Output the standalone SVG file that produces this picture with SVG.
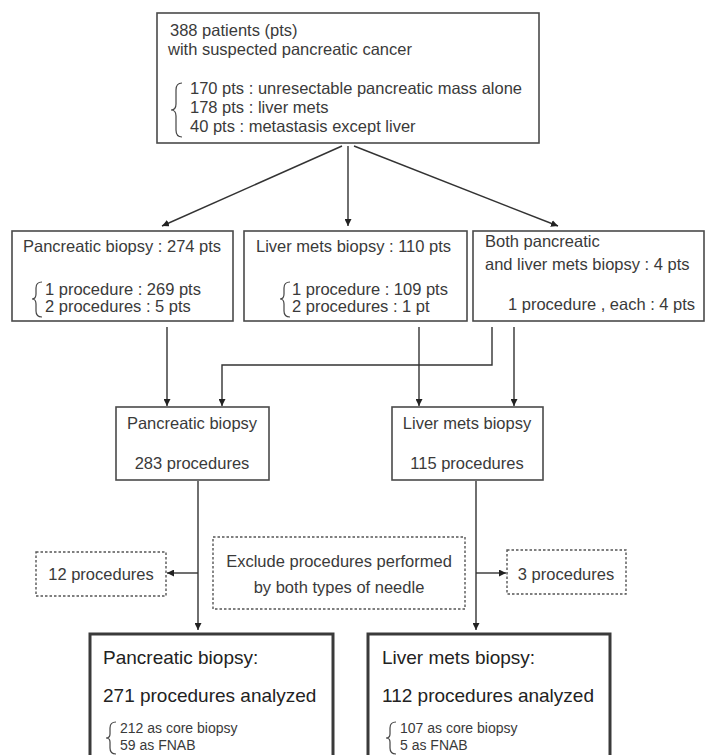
<svg xmlns="http://www.w3.org/2000/svg" width="706" height="755" viewBox="0 0 706 755">
<style>
text{font-family:"Liberation Sans",Arial,sans-serif;fill:#3a3a3a;font-size:16.5px}
.box{fill:none;stroke:#4a4a4a;stroke-width:1.6}
.thick{fill:none;stroke:#3a3a3a;stroke-width:3}
.dash{fill:none;stroke:#555;stroke-width:1.4;stroke-dasharray:2.5 2}
.ln{fill:none;stroke:#333;stroke-width:1.4}
.brace{fill:none;stroke:#444;stroke-width:1.2}
.big{font-size:19px;fill:#222}
.sm{font-size:14px}
</style>
<defs>
<marker id="ah" viewBox="0 0 10 10" refX="10" refY="5" markerWidth="7" markerHeight="7" markerUnits="userSpaceOnUse" orient="auto">
<path d="M0,0 L10,5 L0,10 z" fill="#222"/>
</marker>
</defs>
<rect width="706" height="755" fill="#fff"/>

<g id="connectors">
<line class="ln" x1="342" y1="146" x2="162" y2="226" marker-end="url(#ah)"/>
<line class="ln" x1="348" y1="146" x2="348" y2="226" marker-end="url(#ah)"/>
<line class="ln" x1="354" y1="146" x2="558" y2="226" marker-end="url(#ah)"/>
<line class="ln" x1="167" y1="327" x2="167" y2="406" marker-end="url(#ah)"/>
<line class="ln" x1="419" y1="327" x2="419" y2="406" marker-end="url(#ah)"/>
<polyline class="ln" points="492,327 492,365 222,365 222,406" marker-end="url(#ah)"/>
<line class="ln" x1="514" y1="327" x2="514" y2="406" marker-end="url(#ah)"/>
<line class="ln" x1="198" y1="481" x2="198" y2="630" marker-end="url(#ah)"/>
<line class="ln" x1="476" y1="481" x2="476" y2="630" marker-end="url(#ah)"/>
<line class="ln" x1="198" y1="573" x2="167" y2="573" marker-end="url(#ah)"/>
<line class="ln" x1="476" y1="573" x2="506" y2="573" marker-end="url(#ah)"/>
</g>

<g id="top">
<rect class="box" x="157" y="13" width="382" height="130"/>
<text x="170" y="36">388 patients (pts)</text>
<text x="168" y="55">with suspected pancreatic cancer</text>
<path class="brace" d="M182,83 Q176,83 176,90 L176,104 Q176,110 171,110 Q176,110 176,116 L176,130 Q176,137 182,137"/>
<text x="190" y="94">170 pts : unresectable pancreatic mass alone</text>
<text x="190" y="113">178 pts : liver mets</text>
<text x="190" y="132">40 pts : metastasis except liver</text>
</g>

<g id="panc1">
<rect class="box" x="12" y="231" width="221" height="90"/>
<text x="23" y="252">Pancreatic biopsy : 274 pts</text>
<path class="brace" d="M42,282 Q36,282 36,288 L36,294 Q36,299 32,299 Q36,299 36,304 L36,311 Q36,317 42,317"/>
<text x="45" y="295">1 procedure : 269 pts</text>
<text x="45" y="312">2 procedures : 5 pts</text>
</g>

<g id="liver1">
<rect class="box" x="244" y="231" width="223" height="90"/>
<text x="256" y="252">Liver mets biopsy : 110 pts</text>
<path class="brace" d="M290,282 Q284,282 284,288 L284,294 Q284,299 280,299 Q284,299 284,304 L284,311 Q284,317 290,317"/>
<text x="292" y="295">1 procedure : 109 pts</text>
<text x="292" y="312">2 procedures : 1 pt</text>
</g>

<g id="both1">
<rect class="box" x="473" y="231" width="231" height="90"/>
<text x="485" y="247">Both pancreatic</text>
<text x="485" y="270">and liver mets biopsy : 4 pts</text>
<text x="508" y="310">1 procedure , each : 4 pts</text>
</g>

<g id="panc2">
<rect class="box" x="116" y="407" width="153" height="73"/>
<text x="192" y="429" text-anchor="middle">Pancreatic biopsy</text>
<text x="192" y="469" text-anchor="middle">283 procedures</text>
</g>

<g id="liver2">
<rect class="box" x="392" y="407" width="151" height="73"/>
<text x="467" y="429" text-anchor="middle">Liver mets biopsy</text>
<text x="467" y="469" text-anchor="middle">115 procedures</text>
</g>

<g id="excl12">
<rect class="dash" x="36" y="552" width="130" height="44"/>
<text x="101" y="580" text-anchor="middle">12 procedures</text>
</g>

<g id="exclude">
<rect class="dash" x="213" y="537" width="252" height="72"/>
<text x="339" y="567" text-anchor="middle">Exclude procedures performed</text>
<text x="339" y="593" text-anchor="middle">by both types of needle</text>
</g>

<g id="excl3">
<rect class="dash" x="507" y="550" width="119" height="44"/>
<text x="566" y="580" text-anchor="middle">3 procedures</text>
</g>

<g id="panc3">
<rect class="thick" x="90" y="634" width="243" height="140"/>
<text class="big" x="103" y="664">Pancreatic biopsy:</text>
<text class="big" x="103" y="702">271 procedures analyzed</text>
<path class="brace" d="M116,722 Q110,722 110,728 L110,734 Q110,738 106,738 Q110,738 110,742 L110,748 Q110,754 116,754"/>
<text class="sm" x="120" y="733">212 as core biopsy</text>
<text class="sm" x="120" y="750">59 as FNAB</text>
</g>

<g id="liver3">
<rect class="thick" x="368" y="634" width="242" height="140"/>
<text class="big" x="382" y="664">Liver mets biopsy:</text>
<text class="big" x="382" y="702">112 procedures analyzed</text>
<path class="brace" d="M396,722 Q390,722 390,728 L390,734 Q390,738 386,738 Q390,738 390,742 L390,748 Q390,754 396,754"/>
<text class="sm" x="400" y="733">107 as core biopsy</text>
<text class="sm" x="400" y="750">5 as FNAB</text>
</g>
</svg>
